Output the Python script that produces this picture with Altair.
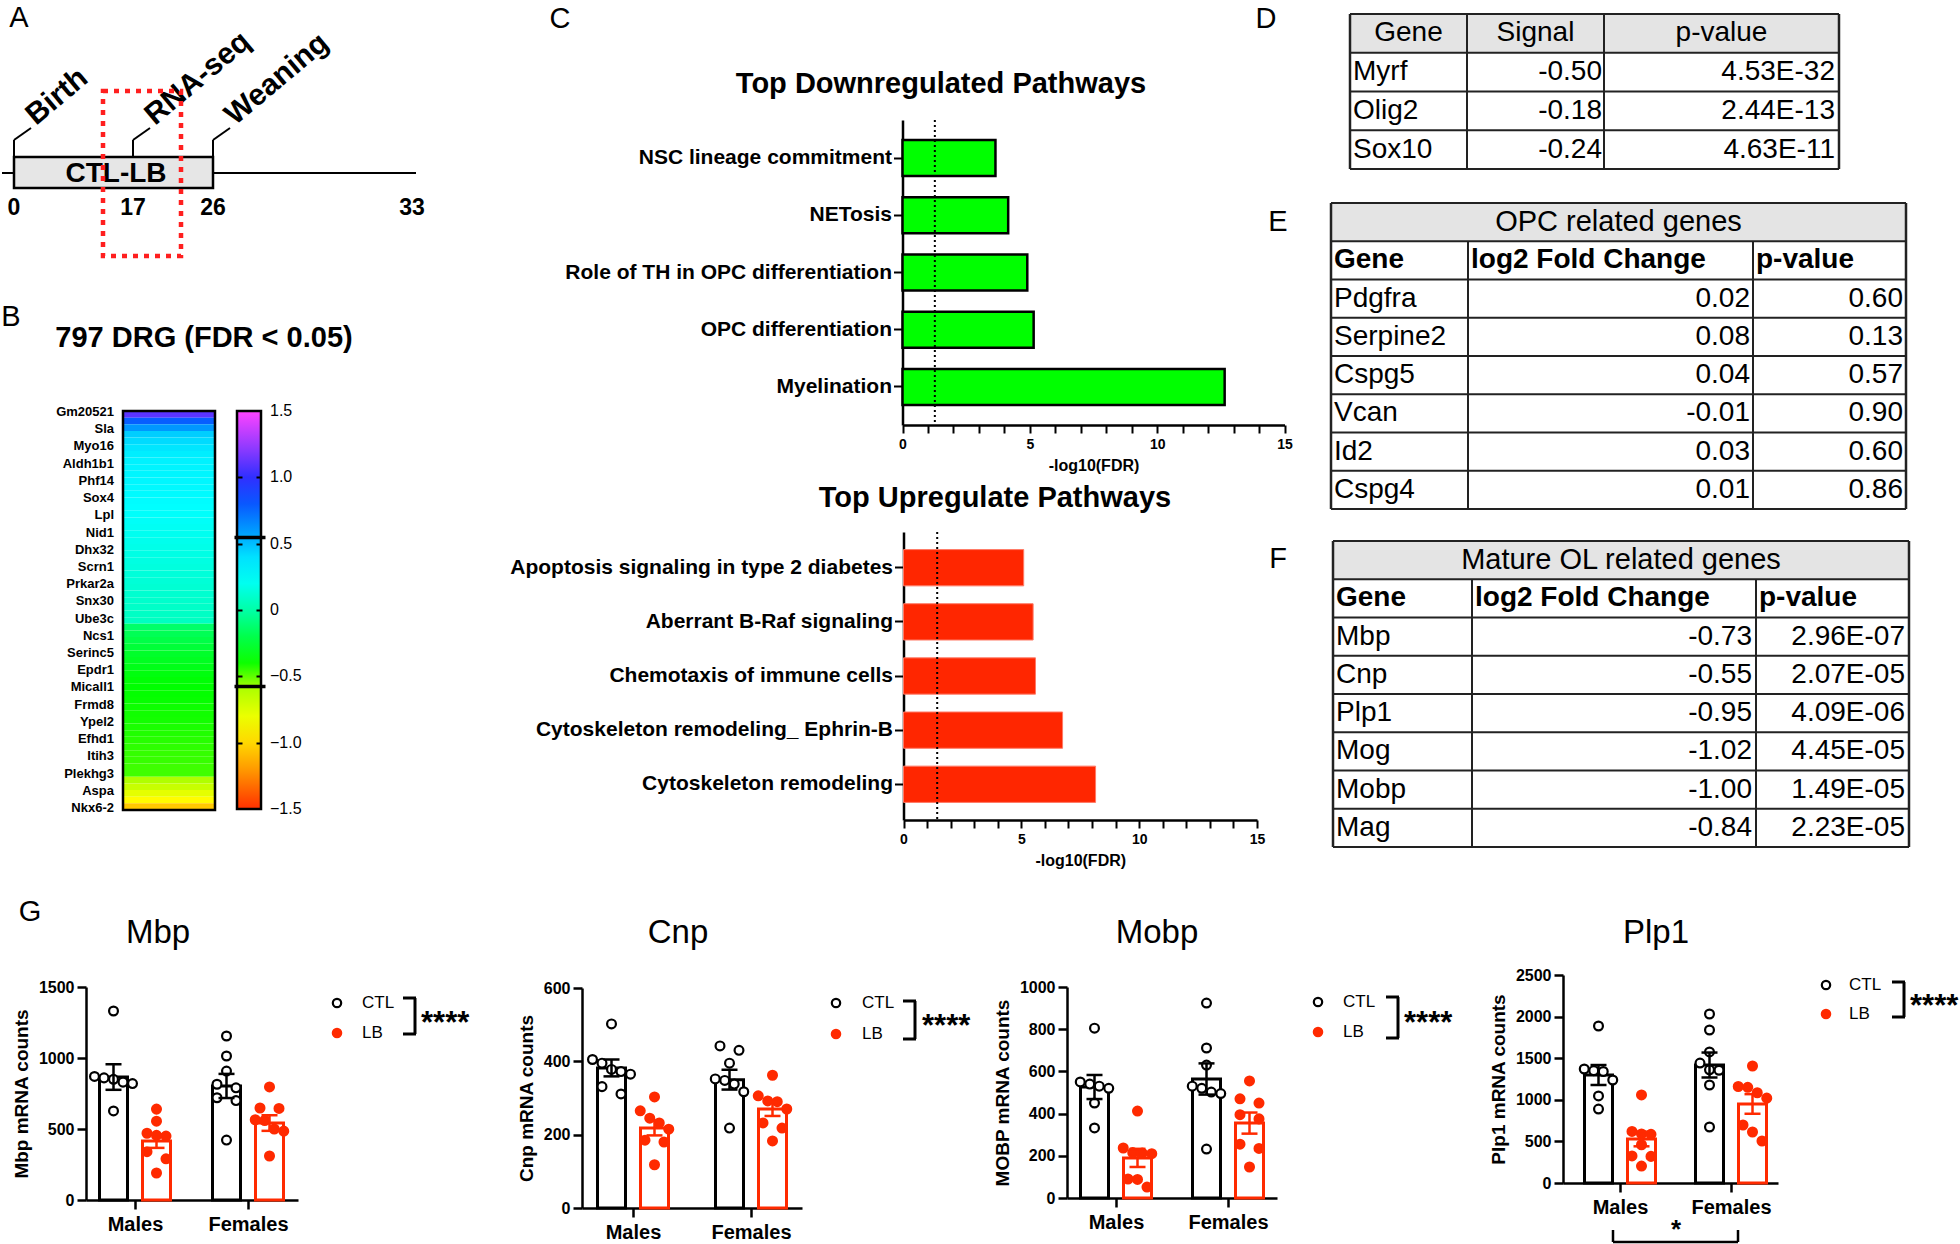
import altair as alt
import pandas as pd

W, H = 1960, 1244
SANS = "Liberation Sans, Arial, Helvetica, sans-serif"
RED = "#ff2a00"
GRAY = "#e4e4e4"

# ---------------- data ----------------
# Panel A: timeline
TIMELINE_DAYS = [0, 17, 26, 33]
EVENT_DAYS = [0, 17, 26]
EVENT_NAMES = ["Birth", "RNA-seq", "Weaning"]
LB_START, LB_END = 0, 26
LB_LABEL = "CTL-LB"

# Panel B: heatmap
HEAT_TITLE = "797 DRG (FDR < 0.05)"
HEAT_GENES = ["Gm20521", "Sla", "Myo16", "Aldh1b1", "Phf14", "Sox4", "Lpl", "Nid1",
              "Dhx32", "Scrn1", "Prkar2a", "Snx30", "Ube3c", "Ncs1", "Serinc5", "Epdr1",
              "Micall1", "Frmd8", "Ypel2", "Efhd1", "Itih3", "Plekhg3", "Aspa", "Nkx6-2"]
HEAT_VALUES = [1.10, 0.78, 0.61, 0.50, 0.43, 0.37, 0.33, 0.31, 0.30, 0.29,
               0.28, 0.27, 0.26, 0.25, 0.24, 0.23, 0.22, 0.21, 0.20, 0.19,
               0.18, 0.17, 0.16, 0.15, 0.14, 0.13, 0.12, 0.11, 0.10, 0.09,
               0.08, 0.07, -0.14, -0.18, -0.21, -0.24, -0.27, -0.29, -0.31, -0.33,
               -0.35, -0.36, -0.37, -0.38, -0.40, -0.41, -0.42, -0.44, -0.46, -0.48,
               -0.50, -0.52, -0.53, -0.55, -0.56, -0.60, -0.68, -0.78, -0.88, -1.05]
COLORBAR_TICKS = [-1.5, -1.0, -0.5, 0.0, 0.5, 1.0, 1.5]
COLORBAR_CUTS = [0.55, -0.57]
COLOR_STOPS = [-1.5, -1.17, -0.87, -0.6, -0.57, -0.36, -0.02, 0.24, 0.53, 0.56, 0.72, 0.95, 1.25, 1.5]
COLOR_HEX = ["#ff3000", "#ffa500", "#ffff00", "#b0ff00", "#44ff00", "#00ff00", "#00ffa0",
             "#00ffff", "#00c8ff", "#00a8ff", "#0070ff", "#1a2cff", "#9b3bff", "#ff44ff"]

# Panel C: pathways
DOWN_TITLE = "Top Downregulated Pathways"
DOWN_PATHWAYS = ["NSC lineage commitment", "NETosis", "Role of TH in OPC differentiation",
                 "OPC differentiation", "Myelination"]
DOWN_LOGFDR = [3.65, 4.15, 4.9, 5.15, 12.65]
DOWN_CUTOFF = 1.27
UP_TITLE = "Top Upregulate Pathways"
UP_PATHWAYS = ["Apoptosis signaling in type 2 diabetes", "Aberrant B-Raf signaling",
               "Chemotaxis of immune cells", "Cytoskeleton remodeling_ Ephrin-B",
               "Cytoskeleton remodeling"]
UP_LOGFDR = [5.1, 5.5, 5.6, 6.75, 8.15]
UP_CUTOFF = 1.43
AXIS_TITLE_C = "-log10(FDR)"

# Panel D/E/F tables
D_HEADER = ["Gene", "Signal", "p-value"]
D_GENES = ["Myrf", "Olig2", "Sox10"]
D_SIGNAL = [-0.50, -0.18, -0.24]
D_PVAL = [4.53e-32, 2.44e-13, 4.63e-11]

TAB_HEADER = ["Gene", "log2 Fold Change", "p-value"]
E_TITLE = "OPC related genes"
E_GENES = ["Pdgfra", "Serpine2", "Cspg5", "Vcan", "Id2", "Cspg4"]
E_LFC = [0.02, 0.08, 0.04, -0.01, 0.03, 0.01]
E_PVAL = [0.60, 0.13, 0.57, 0.90, 0.60, 0.86]
F_TITLE = "Mature OL related genes"
F_GENES = ["Mbp", "Cnp", "Plp1", "Mog", "Mobp", "Mag"]
F_LFC = [-0.73, -0.55, -0.95, -1.02, -1.00, -0.84]
F_PVAL = [2.96e-07, 2.07e-05, 4.09e-06, 4.45e-05, 1.49e-05, 2.23e-05]

# Panel G: mRNA counts ([Males, Females] for each group)
SEXES = ["Males", "Females"]
GROUPS = ["CTL", "LB"]
MBP_CTL = [[1331, 870, 860, 850, 830, 820, 627], [1155, 1014, 908, 815, 790, 720, 700, 422]]
MBP_LB = [[640, 555, 470, 455, 450, 340, 290, 190], [796, 648, 645, 565, 560, 500, 485, 310]]
MBP_MEAN = [[866, 803], [415, 542]]
MBP_SEM = [[90, 85], [48, 55]]
CNP_CTL = [[502, 405, 395, 378, 372, 365, 331, 311], [442, 430, 395, 352, 348, 338, 317, 218]]
CNP_LB = [[303, 265, 245, 232, 215, 185, 180, 118], [362, 306, 292, 290, 270, 232, 218, 183]]
CNP_MEAN = [[382, 350], [218, 270]]
CNP_SEM = [[23, 27], [20, 19]]
MOBP_CTL = [[805, 550, 540, 530, 520, 450, 332], [924, 711, 630, 530, 520, 502, 495, 232]]
MOBP_LB = [[412, 237, 215, 213, 210, 90, 88, 52], [555, 470, 450, 395, 375, 255, 235, 147]]
MOBP_MEAN = [[526, 564], [190, 355]]
MOBP_SEM = [[57, 74], [43, 50]]
PLP1_CTL = [[1887, 1370, 1350, 1340, 1238, 1046, 889], [2031, 1839, 1575, 1442, 1360, 1355, 1178, 673]]
PLP1_LB = [[1058, 620, 590, 585, 460, 325, 320, 204], [1406, 1160, 1150, 1085, 1020, 697, 613, 505]]
PLP1_MEAN = [[1298, 1418], [529, 950]]
PLP1_SEM = [[120, 150], [88, 118]]
SIG_MAIN = "****"
SIG_SEX = "*"

# ---------------- helpers ----------------
ONE = pd.DataFrame({"k": [0]})
L = []


def T(s, x, y, size, weight="normal", font=SANS, align="center", baseline="middle", angle=None):
    kw = dict(text=s, fontSize=size, fontWeight=weight, font=font, align=align,
              baseline=baseline, color="black")
    if angle is not None:
        kw["angle"] = angle
    return alt.Chart(ONE).mark_text(**kw).encode(x=alt.value(x), y=alt.value(y))


def R(x, y, x2=None, y2=None, w=2.0, color="black", dash=None):
    enc = dict(x=alt.value(x), y=alt.value(y))
    if x2 is not None:
        enc["x2"] = alt.value(x2)
    if y2 is not None:
        enc["y2"] = alt.value(y2)
    kw = dict(color=color, strokeWidth=w)
    if dash:
        kw["strokeDash"] = dash
    return alt.Chart(ONE).mark_rule(**kw).encode(**enc)


# ---------------- panel letters ----------------
for letter, x, y in [("A", 19, 18), ("B", 11, 317), ("C", 560, 19), ("D", 1266, 19),
                     ("E", 1278, 222), ("F", 1278, 559), ("G", 30, 912)]:
    L.append(T(letter, x, y, 29))

# ---------------- panel A ----------------
tl = alt.Scale(domain=TIMELINE_DAYS, range=[14, 133, 213, 412], nice=False, zero=False)
L.append(R(2, 173, x2=416, w=1.8))
L.append(alt.Chart(pd.DataFrame({"s": [LB_START], "e": [LB_END]}))
         .mark_rect(fill="#e6e6e6", stroke="black", strokeWidth=2.5)
         .encode(x=alt.X("s:Q", scale=tl, axis=None), x2=alt.X2("e"),
                 y=alt.value(157), y2=alt.value(188)))
L.append(T(LB_LABEL, 116, 174, 28, "bold"))
L.append(alt.Chart(pd.DataFrame({"d": TIMELINE_DAYS}))
         .mark_text(fontSize=23, fontWeight="bold", font=SANS, baseline="middle", color="black")
         .encode(x=alt.X("d:Q", scale=tl, axis=None), y=alt.value(208), text="d:Q"))
ev = pd.DataFrame({"d": EVENT_DAYS, "name": EVENT_NAMES})
L.append(alt.Chart(ev).mark_rule(strokeWidth=2, color="black")
         .encode(x=alt.X("d:Q", scale=tl, axis=None), y=alt.value(156), y2=alt.value(140)))
L.append(alt.Chart(ev).mark_rule(strokeWidth=2, color="black", x2Offset=17)
         .encode(x=alt.X("d:Q", scale=tl, axis=None), x2=alt.X2("d"),
                 y=alt.value(140), y2=alt.value(128)))
L.append(alt.Chart(ev).mark_text(angle=320, align="left", baseline="alphabetic", fontSize=30,
                                 fontWeight="bold", font=SANS, color="black", xOffset=22)
         .encode(x=alt.X("d:Q", scale=tl, axis=None), y=alt.value(126), text="name:N"))
L.append(alt.Chart(ONE).mark_rect(fill="transparent", stroke="#ff1f1f", strokeWidth=4.5,
                                  strokeDash=[5, 6])
         .encode(x=alt.value(103), x2=alt.value(181), y=alt.value(91), y2=alt.value(256)))

# ---------------- panel B ----------------
L.append(T(HEAT_TITLE, 204, 338, 29, "bold"))
heat_df = pd.DataFrame({"i": list(range(len(HEAT_VALUES))), "v": HEAT_VALUES})
L.append(alt.Chart(heat_df).mark_rect()
         .encode(x=alt.value(123), x2=alt.value(215),
                 y=alt.Y("i:O", scale=alt.Scale(range=[411, 810], paddingInner=0, paddingOuter=0),
                         axis=None),
                 color=alt.Color("v:Q",
                                 scale=alt.Scale(domain=COLOR_STOPS, range=COLOR_HEX,
                                                 interpolate="rgb"),
                                 legend=alt.Legend(orient="none", legendX=237, legendY=411,
                                                   direction="vertical", gradientLength=398,
                                                   gradientThickness=24,
                                                   gradientStrokeColor="black",
                                                   gradientStrokeWidth=2.5, title=None,
                                                   values=COLORBAR_TICKS, labelOpacity=0,
                                                   labelExpr="''", padding=0, zindex=0))))
L.append(alt.Chart(ONE).mark_rect(fill="transparent", stroke="black", strokeWidth=2.5)
         .encode(x=alt.value(123), x2=alt.value(215), y=alt.value(411), y2=alt.value(810)))
L.append(alt.Chart(pd.DataFrame({"g": HEAT_GENES}))
         .mark_text(align="right", baseline="middle", font=SANS, fontWeight="bold", fontSize=13,
                    color="black")
         .encode(x=alt.value(114),
                 y=alt.Y("g:N", scale=alt.Scale(type="point", domain=HEAT_GENES,
                                                range=[412, 808], padding=0), axis=None),
                 text="g:N"))
cb_scale = alt.Scale(domain=[-1.5, 1.5], range=[809, 411], nice=False, zero=False)


def cb_guide(vals, x, size, width):
    # colorbar cut lines / ticks drawn as an axis so they sit above the legend gradient
    return (alt.Chart(pd.DataFrame({"t": vals})).mark_point(opacity=0)
            .encode(x=alt.value(0),
                    y=alt.Y("t:Q", scale=cb_scale,
                            axis=alt.Axis(orient="right", offset=x - W, values=vals,
                                          tickSize=size, tickWidth=width, tickColor="black",
                                          domain=False, labels=False, title=None, zindex=2))))


L.append(cb_guide(COLORBAR_CUTS, 234, 31, 3.5))
L.append(cb_guide(COLORBAR_TICKS[1:-1], 237, 5, 2))
L.append(cb_guide(COLORBAR_TICKS[1:-1], 256, 5, 2))
L.append(alt.Chart(pd.DataFrame({"t": COLORBAR_TICKS}))
         .transform_calculate(lab="datum.t == 0 ? '0' : format(datum.t, '.1f')")
         .mark_text(align="left", baseline="middle", font=SANS, fontSize=16, color="black")
         .encode(x=alt.value(270), y=alt.Y("t:Q", scale=cb_scale, axis=None), text="lab:N"))


# ---------------- panel C ----------------
def pathway(names, vals, x_rng, y_rng, pin, pout, fill, stroke, sw, cutoff, title, txy):
    df = pd.DataFrame({"pathway": names, "v": vals})
    xs = alt.Scale(domain=[0, 15], range=x_rng, nice=False, zero=True)
    ys = alt.Scale(domain=names, range=y_rng, paddingInner=pin, paddingOuter=pout)
    xax = alt.Axis(orient="bottom", offset=y_rng[1] - H, values=list(range(16)),
                   labelExpr="datum.value % 5 === 0 ? datum.label : ''", tickSize=8, tickWidth=2,
                   domainWidth=2.5, labelFont=SANS, labelFontWeight="bold", labelFontSize=14,
                   labelPadding=4, labelFlush=False, labelOverlap=False, title=AXIS_TITLE_C,
                   titleFont=SANS, titleFontWeight="bold", titleFontSize=16, titlePadding=6)
    yax = alt.Axis(orient="left", offset=-x_rng[0], title=None, tickSize=9, tickWidth=2,
                   domainWidth=2.5, labelFont=SANS, labelFontWeight="bold", labelFontSize=21,
                   labelPadding=2, labelLimit=600)
    out = [alt.Chart(df).mark_bar(fill=fill, stroke=stroke, strokeWidth=sw)
           .encode(x=alt.X("v:Q", scale=xs, axis=xax), y=alt.Y("pathway:N", scale=ys, axis=yax)),
           alt.Chart(pd.DataFrame({"t": [cutoff]})).mark_rule(strokeDash=[2, 3], strokeWidth=2,
                                                              color="black")
           .encode(x=alt.X("t:Q", scale=xs, axis=None), y=alt.value(y_rng[0]),
                   y2=alt.value(y_rng[1])),
           T(title, txy[0], txy[1], 29, "bold")]
    return out


L += pathway(DOWN_PATHWAYS, DOWN_LOGFDR, [902.5, 1284.5], [120, 425], 0.37, 0.35, "#00ff00",
             "black", 2.5, DOWN_CUTOFF, DOWN_TITLE, (941, 84))
L += pathway(UP_PATHWAYS, UP_LOGFDR, [903.5, 1257], [532, 820], 0.33, 0.325, "#ff2600",
             "#ff7a66", 1, UP_CUTOFF, UP_TITLE, (995, 498))


# ---------------- tables ----------------
def table(xe, top, bottom, nrows, title, header, header_bold, columns, anchors):
    rh = (bottom - top) / nrows
    ys = alt.Scale(domain=[0, nrows], range=[top, bottom], nice=False, zero=False)
    out = [alt.Chart(ONE).mark_rect(fill=GRAY)
           .encode(x=alt.value(xe[0]), x2=alt.value(xe[-1]), y=alt.value(top),
                   y2=alt.value(top + rh))]
    out.append(alt.Chart(pd.DataFrame({"r": list(range(nrows + 1))}))
               .mark_rule(color="#222", strokeWidth=2)
               .encode(x=alt.value(xe[0]), x2=alt.value(xe[-1]),
                       y=alt.Y("r:Q", scale=ys, axis=None)))
    vstart = top + rh if title else top
    for i, x in enumerate(xe):
        edge = i in (0, len(xe) - 1)
        out.append(R(x, top if edge else vstart, y2=bottom, w=2.5 if edge else 2, color="#222"))

    def col_text(rows, texts, x, align, weight, size):
        df = pd.DataFrame({"r": rows, "t": texts})
        return (alt.Chart(df).transform_calculate(rc="datum.r + 0.5")
                .mark_text(align=align, baseline="middle", font=SANS, fontWeight=weight,
                           fontSize=size, color="black")
                .encode(x=alt.value(x), y=alt.Y("rc:Q", scale=ys, axis=None), text="t:N"))

    r0 = 0
    if title:
        out.append(col_text([0], [title], (xe[0] + xe[-1]) / 2, "center", "normal", 29))
        r0 = 1
    for j, h in enumerate(header):
        if header_bold:
            out.append(col_text([r0], [h], xe[j] + 3, "left", "bold", 28))
        else:
            out.append(col_text([r0], [h], (xe[j] + xe[j + 1]) / 2, "center", "normal", 28))
    rows = list(range(r0 + 1, nrows))
    for j, col in enumerate(columns):
        out.append(col_text(rows, col, anchors[j], "left" if j == 0 else "right", "normal", 28))
    return out


L += table([1350, 1467, 1604, 1839], 14, 169, 4, None, D_HEADER, False,
           [D_GENES, [f"{v:.2f}" for v in D_SIGNAL], [f"{v:.2E}" for v in D_PVAL]],
           [1353, 1602, 1835])
L += table([1331, 1468, 1753, 1906], 203, 509, 8, E_TITLE, TAB_HEADER, True,
           [E_GENES, [f"{v:.2f}" for v in E_LFC], [f"{v:.2f}" for v in E_PVAL]],
           [1334, 1750, 1903])
L += table([1333, 1472, 1756, 1909], 541, 847, 8, F_TITLE, TAB_HEADER, True,
           [F_GENES, [f"{v:.2f}" for v in F_LFC], [f"{v:.2E}" for v in F_PVAL]],
           [1336, 1752, 1905])


# ---------------- panel G ----------------
def swarm(vals, tol):
    order = sorted(range(len(vals)), key=lambda i: -vals[i])
    clusters, cur = [], [order[0]]
    for a, b in zip(order, order[1:]):
        if vals[a] - vals[b] < tol:
            cur.append(b)
        else:
            clusters.append(cur)
            cur = [b]
    clusters.append(cur)
    slots = [0.0] * len(vals)
    for c in clusters:
        k = len(c)
        for n, idx in enumerate(c):
            slots[idx] = (n - (k - 1) / 2) * (2 if k == 2 else 1)
    return slots


G_SPECS = [
    dict(gene="Mbp", ylabel="Mbp mRNA counts", ymax=1500, ystep=500, y0=1200, y1=987, r0=86,
         r1=298, c0=135, c1=248, tx=158, lx=337, ly=(1003, 1033), ltx=362, bx=415,
         by=(998, 1034), sx=421, sy=1024),
    dict(gene="Cnp", ylabel="Cnp mRNA counts", ymax=600, ystep=200, y0=1208, y1=988, r0=582,
         r1=802, c0=633, c1=751, tx=678, lx=836, ly=(1003, 1034), ltx=862, bx=915,
         by=(1001, 1039), sx=922, sy=1027),
    dict(gene="Mobp", ylabel="MOBP mRNA counts", ymax=1000, ystep=200, y0=1198, y1=987,
         r0=1067, r1=1277, c0=1116, c1=1228, tx=1157, lx=1318, ly=(1002, 1032), ltx=1343,
         bx=1398, by=(997, 1038), sx=1404, sy=1024),
    dict(gene="Plp1", ylabel="Plp1 mRNA counts", ymax=2500, ystep=500, y0=1183, y1=975,
         r0=1563, r1=1778, c0=1620, c1=1731, tx=1656, lx=1826, ly=(985, 1014), ltx=1849,
         bx=1904, by=(982, 1017), sx=1910, sy=1007),
]
G_DATA = [(MBP_CTL, MBP_LB, MBP_MEAN, MBP_SEM), (CNP_CTL, CNP_LB, CNP_MEAN, CNP_SEM),
          (MOBP_CTL, MOBP_LB, MOBP_MEAN, MOBP_SEM), (PLP1_CTL, PLP1_LB, PLP1_MEAN, PLP1_SEM)]

sexes_js = "[" + ",".join(f"'{s}'" for s in SEXES) + "]"

for sp, (ctl, lb, mean, sem) in zip(G_SPECS, G_DATA):
    step = sp["c1"] - sp["c0"]
    d0 = (sp["r0"] - sp["c0"]) / step
    d1 = 1 + (sp["r1"] - sp["c1"]) / step
    xs = alt.Scale(domain=[d0, d1], range=[sp["r0"], sp["r1"]], nice=False, zero=False)
    ys = alt.Scale(domain=[0, sp["ymax"]], range=[sp["y0"], sp["y1"]], nice=False, zero=False)
    shift, half, unit = 21.5 / step, 14 / step, 9.5 / step
    pos_expr = f"indexof({sexes_js}, datum.sex) + (datum.grp == '{GROUPS[0]}' ? {-shift} : {shift})"
    stroke_enc = alt.Stroke("grp:N", scale=alt.Scale(domain=GROUPS, range=["black", RED]),
                            legend=None)
    fill_enc = alt.Fill("grp:N", scale=alt.Scale(domain=GROUPS, range=["white", RED]),
                        legend=None)
    summ = pd.DataFrame([dict(grp=g, sex=s, mean=mean[gi][si], sem=sem[gi][si])
                         for gi, g in enumerate(GROUPS) for si, s in enumerate(SEXES)])
    tol = 9.0 * sp["ymax"] / (sp["y0"] - sp["y1"])
    prow = []
    for g, arr in zip(GROUPS, [ctl, lb]):
        for si, s in enumerate(SEXES):
            for v, sl in zip(arr[si], swarm(arr[si], tol)):
                prow.append(dict(grp=g, sex=s, val=v, slot=sl))
    pts = pd.DataFrame(prow)

    yax = alt.Axis(orient="left", offset=-sp["r0"], format="d",
                   values=list(range(0, sp["ymax"] + 1, sp["ystep"])), title=sp["ylabel"],
                   tickSize=9, tickWidth=2.5, domainWidth=2.5, labelFont=SANS,
                   labelFontWeight="bold", labelFontSize=16, labelPadding=3,
                   titleFont=SANS, titleFontWeight="bold", titleFontSize=19, titlePadding=7)
    xax = alt.Axis(orient="bottom", offset=sp["y0"] - H, values=[0, 1],
                   labelExpr=f"datum.value === 0 ? '{SEXES[0]}' : '{SEXES[1]}'", title=None,
                   tickSize=9, tickWidth=2.5, domainWidth=2.5, labelFont=SANS,
                   labelFontWeight="bold", labelFontSize=20, labelPadding=5, labelFlush=False,
                   labelOverlap=False)

    L.append(alt.Chart(summ)
             .transform_calculate(pos=pos_expr)
             .transform_calculate(bx0=f"datum.pos - {half}", bx1=f"datum.pos + {half}", z="0")
             .mark_rect(fill="white", strokeWidth=3)
             .encode(x=alt.X("bx0:Q", scale=xs, axis=xax), x2=alt.X2("bx1"),
                     y=alt.Y("mean:Q", scale=ys, axis=yax), y2=alt.Y2("z"), stroke=stroke_enc))
    L.append(alt.Chart(pts)
             .transform_calculate(pos=pos_expr + f" + datum.slot * {unit}")
             .mark_circle(size=78, strokeWidth=2.2, opacity=1)
             .encode(x=alt.X("pos:Q", scale=xs, axis=None), y=alt.Y("val:Q", scale=ys, axis=None),
                     fill=fill_enc, stroke=stroke_enc))
    err = alt.Chart(summ).transform_calculate(pos=pos_expr, lo="datum.mean - datum.sem",
                                              hi="datum.mean + datum.sem")
    L.append(err.mark_rule(strokeWidth=2.5)
             .encode(x=alt.X("pos:Q", scale=xs, axis=None), y=alt.Y("lo:Q", scale=ys, axis=None),
                     y2=alt.Y2("hi"), stroke=stroke_enc))
    L.append(err.transform_fold(["lo", "hi"], as_=["end", "yv"])
             .mark_rule(strokeWidth=2.5, xOffset=-8, x2Offset=8)
             .encode(x=alt.X("pos:Q", scale=xs, axis=None), x2=alt.X2("pos"),
                     y=alt.Y("yv:Q", scale=ys, axis=None), stroke=stroke_enc))
    # title
    L.append(T(sp["gene"], sp["tx"], 933, 33))
    # legend
    lys = alt.Scale(type="point", domain=GROUPS, range=list(sp["ly"]), padding=0)
    leg = pd.DataFrame({"grp": GROUPS})
    L.append(alt.Chart(leg).mark_circle(size=70, strokeWidth=2.2, opacity=1)
             .encode(x=alt.value(sp["lx"]), y=alt.Y("grp:N", scale=lys, axis=None),
                     fill=fill_enc, stroke=stroke_enc))
    L.append(alt.Chart(leg).mark_text(align="left", baseline="middle", fontSize=17, font=SANS,
                                      color="black")
             .encode(x=alt.value(sp["ltx"]), y=alt.Y("grp:N", scale=lys, axis=None),
                     text="grp:N"))
    bx, (by0, by1) = sp["bx"], sp["by"]
    L.append(R(bx, by0, y2=by1, w=3))
    L.append(R(bx - 12, by0, x2=bx + 1, w=3))
    L.append(R(bx - 12, by1, x2=bx + 1, w=3))
    L.append(T(SIG_MAIN, sp["sx"], sp["sy"], 31, "bold", align="left"))

# sex comparison bracket on Plp1
L.append(R(1613, 1242, x2=1738, w=2.5))
L.append(R(1613, 1230, y2=1242, w=2.5))
L.append(R(1738, 1230, y2=1242, w=2.5))
L.append(T(SIG_SEX, 1676, 1238, 26, "bold", baseline="alphabetic"))

chart = (alt.layer(*L)
         .resolve_scale(x="independent", y="independent", color="independent",
                        fill="independent", stroke="independent")
         .properties(width=W, height=H, padding=0, autosize=alt.AutoSizeParams(type="none"))
         .configure_view(stroke=None)
         .configure_axis(grid=False, domainColor="black", tickColor="black",
                         labelColor="black", titleColor="black"))

chart.save("out.html", embed_options={"renderer": "svg", "actions": False})
